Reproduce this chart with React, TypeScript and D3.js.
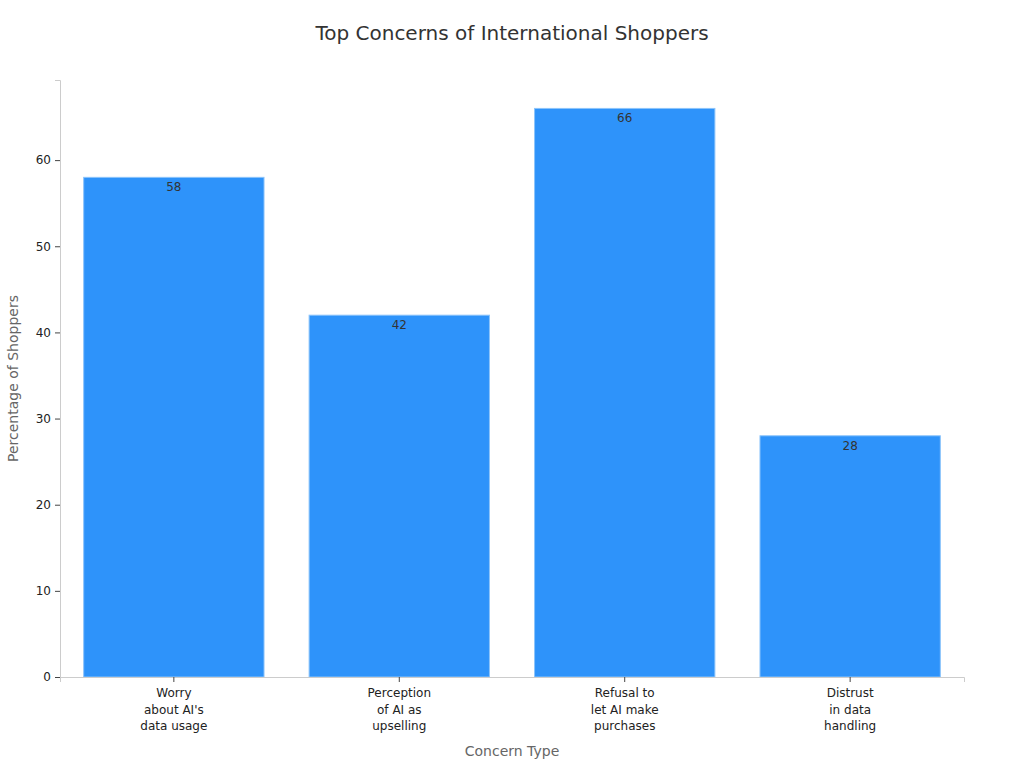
import React, { useEffect, useRef } from 'react';
import * as d3 from 'd3';

const WIDTH = 1024;
const HEIGHT = 768;
const MARGIN = { top: 80, right: 60, bottom: 91, left: 60 };
const BAR_COLOR = '#2E93FA';
const FONT = '"DejaVu Sans", sans-serif';

const CATEGORIES = [
  ['Worry', "about AI's", 'data usage'],
  ['Perception', 'of AI as', 'upselling'],
  ['Refusal to', 'let AI make', 'purchases'],
  ['Distrust', 'in data', 'handling'],
];
const VALUES = [58, 42, 66, 28];
const Y_TICKS = [0, 10, 20, 30, 40, 50, 60];

const App: React.FC = () => {
  const svgRef = useRef<SVGSVGElement>(null);

  useEffect(() => {
    const svg = d3.select(svgRef.current);
    svg.selectAll('*').remove();
    svg.attr('width', WIDTH).attr('height', HEIGHT).style('background', '#fff');

    const innerW = WIDTH - MARGIN.left - MARGIN.right;
    const innerH = HEIGHT - MARGIN.top - MARGIN.bottom;
    const keys = CATEGORIES.map((_, i) => String(i));

    const x = d3.scaleBand().domain(keys).range([0, innerW]).paddingInner(0.2).paddingOuter(0.105);
    const y = d3.scaleLinear().domain([0, d3.max(VALUES)! * 1.05]).range([innerH, 0]);

    const g = svg.append('g').attr('transform', `translate(${MARGIN.left},${MARGIN.top})`);

    // Bars
    g.selectAll('rect.bar')
      .data(VALUES)
      .join('rect')
      .attr('class', 'bar')
      .attr('x', (_, i) => x(String(i))!)
      .attr('y', d => y(d))
      .attr('width', x.bandwidth())
      .attr('height', d => innerH - y(d))
      .attr('fill', BAR_COLOR)
      .attr('stroke', '#8cc4fb')
      .attr('stroke-width', 1);

    // Value labels just inside the bar top
    g.selectAll('text.val')
      .data(VALUES)
      .join('text')
      .attr('class', 'val')
      .attr('x', (_, i) => x(String(i))! + x.bandwidth() / 2)
      .attr('y', d => y(d) + 14)
      .attr('text-anchor', 'middle')
      .attr('font-family', FONT)
      .attr('font-size', 12)
      .attr('fill', '#333')
      .text(d => d);

    // Y axis
    g.append('g')
      .call(d3.axisLeft(y).tickValues(Y_TICKS).tickSize(5).tickPadding(4))
      .call(sel => {
        sel.select('.domain').attr('stroke', '#ccc');
        sel.selectAll('.tick line').attr('stroke', '#444');
        sel.selectAll('text').attr('fill', '#222').attr('font-size', 12).attr('font-family', FONT);
      });

    // X axis
    const xAxis = g.append('g')
      .attr('transform', `translate(0,${innerH})`)
      .call(d3.axisBottom(x).tickSize(5).tickFormat(() => ''))
      .call(sel => {
        sel.select('.domain').attr('stroke', '#ccc');
        sel.selectAll('.tick line').attr('stroke', '#444');
      });

    xAxis.selectAll<SVGGElement, string>('.tick').each(function (d) {
      const lines = CATEGORIES[+d];
      const t = d3.select(this).append('text')
        .attr('text-anchor', 'middle')
        .attr('font-family', FONT)
        .attr('font-size', 12)
        .attr('fill', '#222')
        .attr('y', 20);
      lines.forEach((line, li) => {
        t.append('tspan').attr('x', 0).attr('dy', li === 0 ? 0 : 16.5).text(line);
      });
    });

    // Axis titles
    svg.append('text')
      .attr('x', MARGIN.left + innerW / 2)
      .attr('y', 756)
      .attr('text-anchor', 'middle')
      .attr('font-family', FONT)
      .attr('font-size', 14)
      .attr('fill', '#666')
      .text('Concern Type');

    svg.append('text')
      .attr('transform', `translate(18,${MARGIN.top + innerH / 2}) rotate(-90)`)
      .attr('text-anchor', 'middle')
      .attr('font-family', FONT)
      .attr('font-size', 14)
      .attr('fill', '#666')
      .text('Percentage of Shoppers');

    // Title
    svg.append('text')
      .attr('x', WIDTH / 2)
      .attr('y', 40)
      .attr('text-anchor', 'middle')
      .attr('font-family', FONT)
      .attr('font-size', 20)
      .attr('fill', '#333')
      .text('Top Concerns of International Shoppers');
  }, []);

  return <svg ref={svgRef} style={{ display: 'block', position: 'absolute', left: 0, top: 0 }} />;
};

export default App;
